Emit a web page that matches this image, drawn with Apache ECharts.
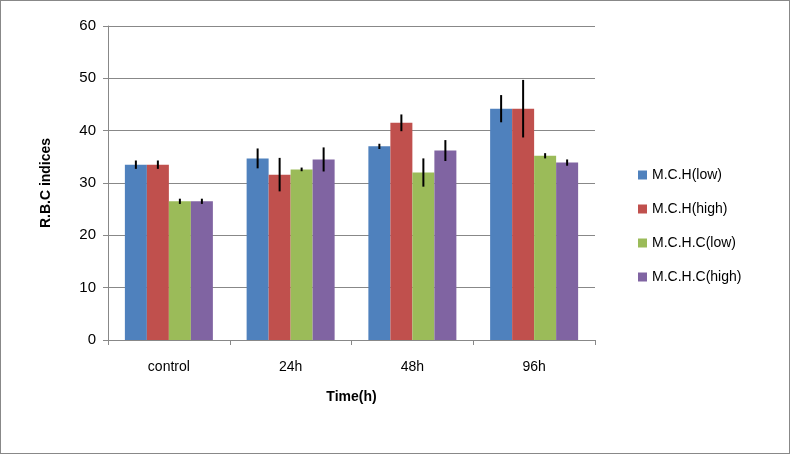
<!DOCTYPE html><html><head><meta charset="utf-8"><script src="https://cdn.jsdelivr.net/npm/echarts@6/dist/echarts.min.js"></script>
<style>body{margin:0}#c{width:788px;height:452px;border:1px solid #888}</style></head><body><div id="c"></div><script>
const categories=['control','24h','48h','96h'];
const seriesNames=['M.C.H(low)','M.C.H(high)','M.C.H.C(low)','M.C.H.C(high)'];
const colors=['#4f81bd','#c0504d','#9bbb59','#8064a2'];
const mchLow=[33.5,34.7,37.0,44.2];
const mchHigh=[33.5,31.6,41.5,44.2];
const mchcLow=[26.5,32.6,32.0,35.2];
const mchcHigh=[26.5,34.5,36.2,33.9];
const errMchLow=[0.8,1.9,0.5,2.6];
const errMchHigh=[0.8,3.2,1.6,5.5];
const errMchcLow=[0.5,0.35,2.7,0.5];
const errMchcHigh=[0.5,2.3,2.0,0.6];
const vals=[mchLow,mchHigh,mchcLow,mchcHigh];
const errs=[errMchLow,errMchHigh,errMchcLow,errMchcHigh];
const F='"Liberation Sans",sans-serif';
const chart=echarts.init(document.getElementById('c'));
const series=[];
vals.forEach((v,i)=>{series.push({name:seriesNames[i],type:'bar',data:v,barWidth:22,barGap:'0%',barCategoryGap:'28%',itemStyle:{color:colors[i]}});});
vals.forEach((v,i)=>{series.push({type:'custom',z:10,data:v.map((y,k)=>[k,y-errs[i][k],y+errs[i][k]]),
renderItem:(p,api)=>{const lo=api.coord([api.value(0),api.value(1)]);const hi=api.coord([api.value(0),api.value(2)]);const w=api.size([1,0])[0];const x=lo[0]+(i-1.5)*22;
return {type:'line',shape:{x1:x,y1:lo[1],x2:x,y2:hi[1]},style:{stroke:'#000',lineWidth:2}};}});});
chart.setOption({animation:false,
grid:{left:107,right:194,top:25,bottom:113},
legend:{orient:'vertical',left:632,top:162,itemGap:20,itemWidth:9,itemHeight:9,icon:'rect',data:seriesNames,textStyle:{fontFamily:F,fontSize:14,color:'#000'}},
xAxis:{type:'category',data:categories,name:'Time(h)',nameLocation:'middle',nameGap:50,nameTextStyle:{fontFamily:F,fontWeight:'bold',fontSize:14,color:'#000'},axisLine:{lineStyle:{color:'#888'}},axisTick:{show:true,alignWithLabel:false,lineStyle:{color:'#888'}},axisLabel:{fontFamily:F,fontSize:14,color:'#000',margin:20}},
yAxis:{type:'value',min:0,max:60,interval:10,name:'R.B.C indices',nameLocation:'middle',nameGap:55,nameTextStyle:{fontFamily:F,fontWeight:'bold',fontSize:14,color:'#000'},axisLine:{show:true,lineStyle:{color:'#888'}},axisTick:{show:true,lineStyle:{color:'#888'}},axisLabel:{fontFamily:F,fontSize:15,color:'#000',margin:12},splitLine:{lineStyle:{color:'#888'}}},
series});
</script></body></html>
